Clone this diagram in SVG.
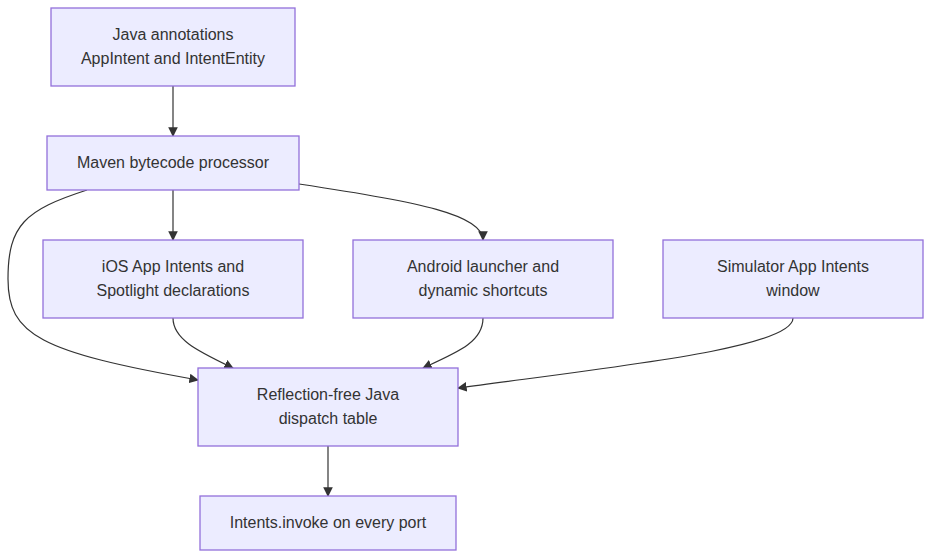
<svg xmlns="http://www.w3.org/2000/svg" width="931" height="558" viewBox="0 0 931 558">
<style>
.n rect{fill:#ECECFF;stroke:#9370DB;stroke-width:1.3}
.n text{font-family:"Liberation Sans",Arial,sans-serif;font-size:16px;fill:#333;text-anchor:middle}
.e path{fill:none;stroke:#333;stroke-width:1.2;marker-end:url(#a)}
</style>
<defs><marker id="a" viewBox="0 0 10 10" refX="9" refY="5" markerWidth="8" markerHeight="8" orient="auto"><path d="M0,0L10,5L0,10z" fill="#333"/></marker></defs>
<rect width="931" height="558" fill="#fff"/>
<g class="e">
<path d="M173,86V136"/>
<path d="M173,190V240"/>
<path d="M299,184C420,202 483,215 483,240"/>
<path d="M87,190C25,210 8,225 8,279C8,335 40,352 198,380"/>
<path d="M173,318C173,340 200,352 233,368"/>
<path d="M483,318C483,342 458,352 423,368"/>
<path d="M793,318C793,348 620,366 458,388"/>
<path d="M328,446V496"/>
</g>
<g id="A" class="n"><rect x="51" y="8" width="244" height="78"/><text x="173" y="40">Java annotations</text><text x="173" y="64">AppIntent and IntentEntity</text></g>
<g id="B" class="n"><rect x="47" y="136" width="252" height="54"/><text x="173" y="168">Maven bytecode processor</text></g>
<g id="C" class="n"><rect x="43" y="240" width="260" height="78"/><text x="173" y="272">iOS App Intents and</text><text x="173" y="296">Spotlight declarations</text></g>
<g id="D" class="n"><rect x="353" y="240" width="260" height="78"/><text x="483" y="272">Android launcher and</text><text x="483" y="296">dynamic shortcuts</text></g>
<g id="E" class="n"><rect x="663" y="240" width="260" height="78"/><text x="793" y="272">Simulator App Intents</text><text x="793" y="296">window</text></g>
<g id="F" class="n"><rect x="198" y="368" width="260" height="78"/><text x="328" y="400">Reflection-free Java</text><text x="328" y="424">dispatch table</text></g>
<g id="G" class="n"><rect x="200" y="496" width="256" height="54"/><text x="328" y="528">Intents.invoke on every port</text></g>
</svg>
